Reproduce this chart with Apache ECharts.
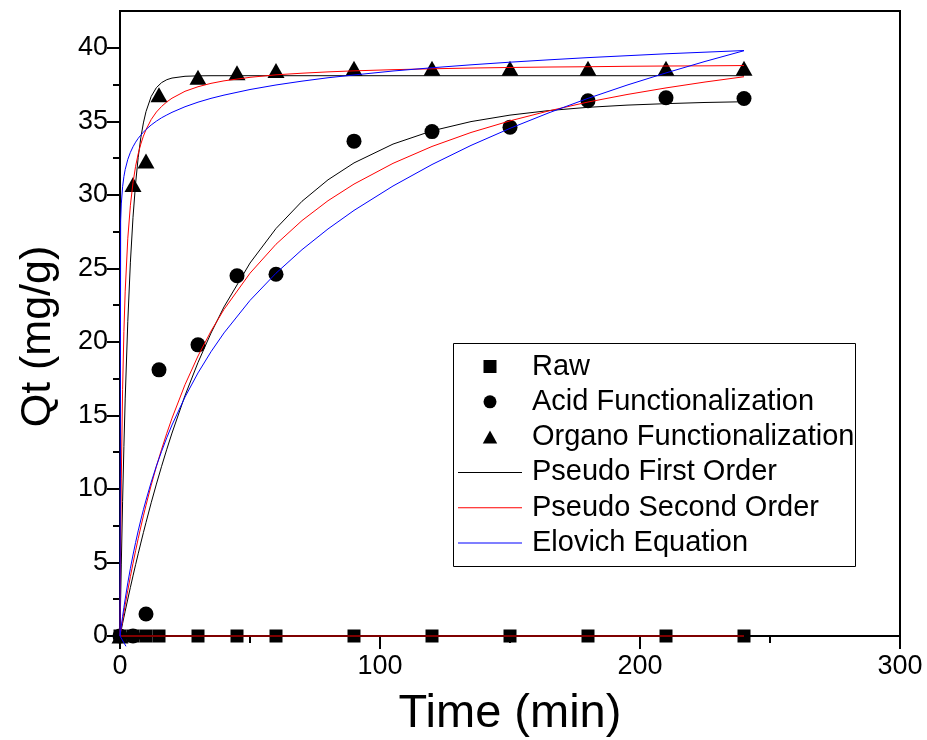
<!DOCTYPE html>
<html>
<head>
<meta charset="utf-8">
<script src="https://cdn.jsdelivr.net/npm/echarts@6/dist/echarts.min.js"></script>
<style>
  html, body { margin: 0; padding: 0; background: #fff; }
  #chart { width: 927px; height: 740px; }
</style>
</head>
<body>
<div id="chart"></div>
<script>
// Sampling times (min) of the measured adsorption data
const timeMin = [0, 5, 10, 15, 30, 45, 60, 90, 120, 150, 180, 210, 240];
// Measured uptake Qt (mg/g)
const rawQt = [0, 0, 0, 0, 0, 0, 0, 0, 0, 0, 0, 0, 0];
const acidQt = [0, 0, 1.5, 18.1, 19.8, 24.5, 24.6, 33.65, 34.3, 34.6, 36.4, 36.6, 36.55];
const organoQt = [0, 30.7, 32.3, 36.8, 38.0, 38.3, 38.45, 38.6, 38.6, 38.6, 38.6, 38.6, 38.6];

// Times at which the kinetic model curves are plotted (min)
const fitTime = [0, 0.25, 0.5, 1, 1.5, 2, 3, 4, 5, 6, 7, 8, 9, 10, 12, 14, 16, 18, 20, 25, 30, 35, 40,
  50, 60, 70, 80, 90, 105, 120, 135, 150, 165, 180, 195, 210, 225, 240];

// Acid functionalized sample: model curves
const acidPFO = [0, 0.22, 0.43, 0.86, 1.28, 1.69, 2.51, 3.31, 4.09, 4.85, 5.59, 6.32, 7.03, 7.72, 9.06, 10.33,
  11.54, 12.70, 13.80, 16.35, 18.60, 20.60, 22.38, 25.36, 27.71, 29.56, 31.02, 32.17, 33.45, 34.35, 34.98,
  35.42, 35.73, 35.95, 36.10, 36.20, 36.28, 36.33];
const acidPSO = [0, 0.28, 0.55, 1.09, 1.61, 2.12, 3.10, 4.04, 4.94, 5.80, 6.62, 7.41, 8.17, 8.89, 10.26, 11.53,
  12.70, 13.79, 14.81, 17.09, 19.04, 20.73, 22.21, 24.67, 26.64, 28.25, 29.60, 30.73, 32.14, 33.29, 34.24,
  35.03, 35.71, 36.31, 36.82, 37.27, 37.67, 38.03];
const acidElovich = [0, 0.35, 0.68, 1.33, 1.94, 2.52, 3.61, 4.60, 5.51, 6.36, 7.15, 7.89, 8.59, 9.24, 10.46, 11.56,
  12.56, 13.49, 14.35, 16.25, 17.89, 19.33, 20.61, 22.82, 24.67, 26.27, 27.68, 28.94, 30.60, 32.06, 33.36,
  34.52, 35.58, 36.56, 37.46, 38.29, 39.07, 39.80];

// Organo functionalized sample: model curves
const organoPFO = [0, 2.53, 4.89, 9.16, 12.88, 16.12, 21.40, 25.42, 28.47, 30.78, 32.54, 33.88, 34.89, 35.66, 36.69,
  37.29, 37.63, 37.83, 37.94, 38.06, 38.09, 38.10, 38.10, 38.10, 38.10, 38.10, 38.10, 38.10, 38.10, 38.10, 38.10,
  38.10, 38.10, 38.10, 38.10, 38.10, 38.10, 38.10];
const organoPSO = [0, 6.19, 10.68, 16.77, 20.70, 23.45, 27.05, 29.29, 30.83, 31.94, 32.79, 33.45, 33.99, 34.43, 35.12,
  35.63, 36.01, 36.32, 36.57, 37.04, 37.35, 37.58, 37.75, 37.99, 38.16, 38.27, 38.36, 38.43, 38.51, 38.57, 38.62,
  38.66, 38.69, 38.71, 38.74, 38.76, 38.77, 38.79];
const organoElovich = [0, 28.21, 29.38, 30.55, 31.24, 31.72, 32.41, 32.89, 33.27, 33.58, 33.84, 34.06, 34.26, 34.44,
  34.75, 35.01, 35.24, 35.43, 35.61, 35.99, 36.30, 36.56, 36.78, 37.16, 37.47, 37.73, 37.96, 38.15, 38.42, 38.64,
  38.84, 39.02, 39.18, 39.33, 39.46, 39.59, 39.70, 39.81];

// Raw sample: model curves (no uptake)
const rawFitTime = [0, 240];
const rawPFO = [0, 0];
const rawPSO = [0, 0];
const rawElovichTime = [0, 2.3];
const rawElovich = [0, -0.7];

// Axis tick values
const yMajorTicks = [0, 5, 10, 15, 20, 25, 30, 35, 40];
const yMinorTicks = [2.5, 7.5, 12.5, 17.5, 22.5, 27.5, 32.5, 37.5];

const FONT = '"Liberation Sans", Arial, sans-serif';

function pairs(xs, ys) { return xs.map((x, i) => [x, ys[i]]); }

function scatter(name, ys, symbol, size) {
  return {
    type: 'scatter', name, data: pairs(timeMin, ys), symbol, symbolSize: size,
    itemStyle: { color: '#000', opacity: 1 }, z: 3,
    emphasis: { disabled: true }
  };
}
function curve(name, xs, ys, color) {
  return {
    type: 'line', name, data: pairs(xs, ys), showSymbol: false, symbol: 'none',
    lineStyle: { color, width: 1 }, itemStyle: { color }, clip: false, z: 4,
    emphasis: { disabled: true }
  };
}

const PFO = 'Pseudo First Order', PSO = 'Pseudo Second Order', ELO = 'Elovich Equation';
// Legend icon for the model curves: a thin horizontal stroke
const LINE_ICON = 'path://M0,0H64V1H0Z';

const chart = echarts.init(document.getElementById('chart'));
chart.setOption({
  animation: false,
  backgroundColor: '#fff',
  textStyle: { fontFamily: FONT },
  grid: {
    left: 120, right: 27, top: 11, bottom: 104, containLabel: false, outerBoundsMode: 'none',
    show: true, borderColor: '#000', borderWidth: 2, backgroundColor: 'transparent'
  },
  xAxis: {
    type: 'value', min: 0, max: 300, interval: 100,
    name: 'Time (min)', nameLocation: 'middle', nameGap: 55,
    nameTextStyle: { fontSize: 47, color: '#000', fontFamily: FONT },
    axisLine: { show: true, onZero: false, lineStyle: { color: '#000', width: 2 } },
    axisTick: { show: true, inside: false, length: 13, lineStyle: { color: '#000', width: 2 } },
    minorTick: { show: true, splitNumber: 2, length: 7, lineStyle: { color: '#000', width: 2 } },
    axisLabel: { fontSize: 27, color: '#000', margin: 17, fontFamily: FONT },
    splitLine: { show: false }, minorSplitLine: { show: false }
  },
  yAxis: [
    {
      type: 'value', min: 0, max: 42.5, interval: 5, position: 'left',
      name: 'Qt (mg/g)', nameLocation: 'middle', nameGap: 60, nameRotate: 90,
      nameTextStyle: { fontSize: 43, color: '#000', fontFamily: FONT, padding: [0, 26, 0, 0] },
      axisLine: { show: true, onZero: false, lineStyle: { color: '#000', width: 2 } },
      axisTick: { show: true, inside: false, length: 13, customValues: yMajorTicks, lineStyle: { color: '#000', width: 2 } },
      axisLabel: { fontSize: 27, color: '#000', margin: 12, customValues: yMajorTicks, fontFamily: FONT },
      splitLine: { show: false }
    },
    {
      type: 'value', min: 0, max: 42.5, position: 'left',
      axisLine: { show: false },
      axisTick: { show: true, inside: false, length: 7, customValues: yMinorTicks, lineStyle: { color: '#000', width: 2 } },
      axisLabel: { show: false },
      splitLine: { show: false }
    }
  ],
  legend: {
    orient: 'vertical', left: 453, top: 347, padding: 5,
    itemWidth: 64, itemHeight: 13, itemGap: 6.3,
    symbolKeepAspect: true,
    selectedMode: false,
    textStyle: { fontSize: 29, color: '#000', fontFamily: FONT, padding: [0, 0, 0, 5] },
    data: [
      { name: 'Raw', icon: 'path://M0,0H10V10H0Z' },
      { name: 'Acid Functionalization', icon: 'path://M5,0A5,5 0 1,1 5,10A5,5 0 1,1 5,0Z' },
      { name: 'Organo Functionalization', icon: 'path://M5,0L10,9L0,9Z' },
      { name: PFO, icon: LINE_ICON }, { name: PSO, icon: LINE_ICON }, { name: ELO, icon: LINE_ICON }
    ]
  },
  graphic: [{
    type: 'rect', left: 453, top: 343, z: 1,
    shape: { width: 402, height: 223 },
    style: { fill: 'transparent', stroke: '#000', lineWidth: 1 }
  }],
  series: [
    scatter('Raw', rawQt, 'rect', 13),
    scatter('Acid Functionalization', acidQt, 'circle', 15),
    scatter('Organo Functionalization', organoQt, 'triangle', [17, 15]),
    curve(PFO, rawFitTime, rawPFO, '#000000'),
    curve(PFO, fitTime, acidPFO, '#000000'),
    curve(PFO, fitTime, organoPFO, '#000000'),
    curve(PSO, rawFitTime, rawPSO, '#ff0000'),
    curve(PSO, fitTime, acidPSO, '#ff0000'),
    curve(PSO, fitTime, organoPSO, '#ff0000'),
    curve(ELO, rawElovichTime, rawElovich, '#0000ff'),
    curve(ELO, fitTime, acidElovich, '#0000ff'),
    curve(ELO, fitTime, organoElovich, '#0000ff')
  ]
});
</script>
</body>
</html>
